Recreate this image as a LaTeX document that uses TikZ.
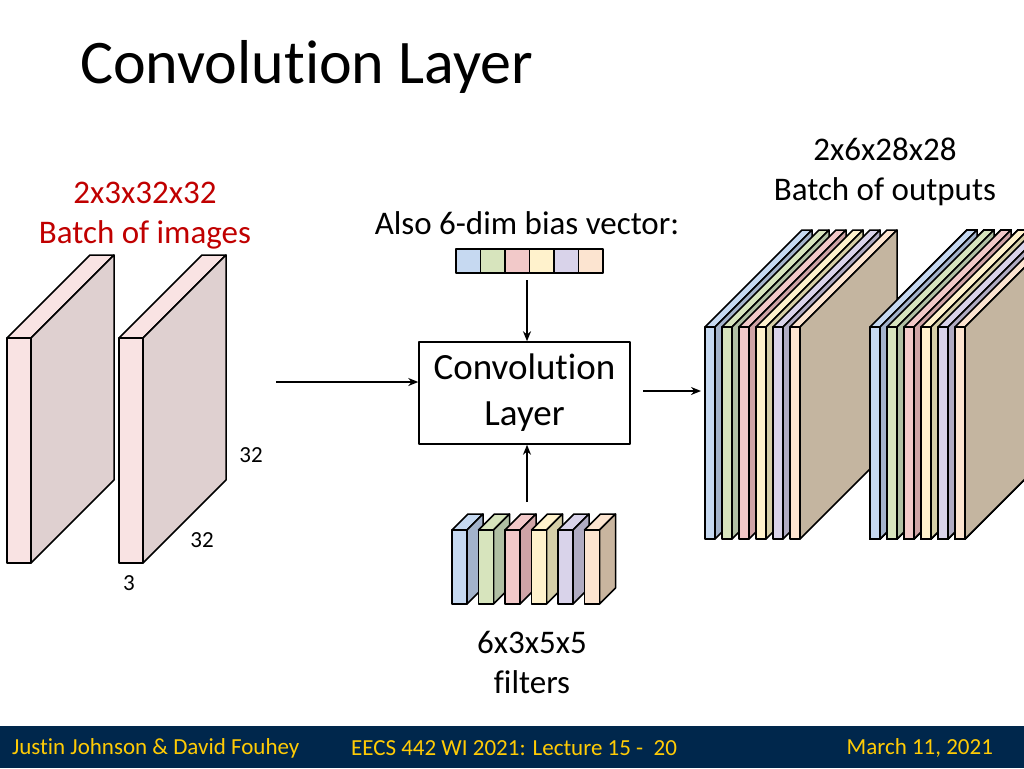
\documentclass[tikz,border=0pt]{standalone}
\usepackage{fontspec}
\setmainfont[Ligatures=NoCommon]{Carlito}
\usetikzlibrary{arrows.meta}
\definecolor{umblue}{HTML}{00274C}
\definecolor{maize}{HTML}{FFCB05}
\definecolor{redtxt}{HTML}{C00000}
\definecolor{cA}{HTML}{C6D9F1}\definecolor{sA}{HTML}{A3B3CB}
\definecolor{cB}{HTML}{D7E4BD}\definecolor{sB}{HTML}{B0BFA3}
\definecolor{cC}{HTML}{F2C9C9}\definecolor{sC}{HTML}{CFA4A6}
\definecolor{cD}{HTML}{FFF2CC}\definecolor{sD}{HTML}{D6CFA8}
\definecolor{cE}{HTML}{D9D3EA}\definecolor{sE}{HTML}{B0ABC2}
\definecolor{cF}{HTML}{FCE4D0}\definecolor{sF}{HTML}{C9B59F}
\definecolor{inF}{HTML}{F9E3E3}\definecolor{inS}{HTML}{DFD0D0}
\definecolor{brown}{HTML}{C4B5A0}
% slab: x, y top, width, height, depth, front colour, side colour
\newcommand{\slab}[7]{%
  \filldraw[fill=#6] (#1,#2) -- ++(#3,0) -- ++(#5,-#5) -- ++(-#3,0) -- cycle;
  \filldraw[fill=#7] (#1+#3,#2) -- ++(#5,-#5) -- ++(0,#4) -- ++(-#5,#5) -- cycle;
  \filldraw[fill=#6] (#1,#2) rectangle ++(#3,#4);}
% stack of six output maps
\newcommand{\outstack}[1]{%
  \foreach \col/\sd [count=\i from 0] in {cA/sA,cB/sB,cC/sC,cD/sD,cE/sE,cF/brown}
      \slab{#1+17*\i}{327}{10}{212}{97}{\col}{\sd}}
\tikzset{
  lbl/.style={font=\fontsize{33}{40}\selectfont, align=center},
  small/.style={font=\fontsize{23}{27}\selectfont},
  arr/.style={-{Stealth[length=10pt,width=8pt]}, line width=1.8pt},
}
\begin{document}
\begin{tikzpicture}[x=1pt,y=-1pt,line width=1.5pt,line join=round]
    \useasboundingbox (0,0) rectangle (1024,768);
    \clip (0,0) rectangle (1024,768);
    \node[anchor=west, font=\fontsize{62}{70}\selectfont] (title) at (76,67) {Convolution Layer};
    % input images
    \slab{7}{338}{24}{225}{83}{inF}{inS}
    \slab{119}{338}{24}{225}{83}{inF}{inS}
    \node[lbl, text=redtxt] (inlbl) at (145,216) {2x3x32x32\\Batch of images};
    \node[small] (h) at (251,455) {32};
    \node[small] (w) at (202,540) {32};
    \node[small] (c) at (129,583) {3};
    % conv layer
    \node[draw, minimum width=211pt, minimum height=102pt, align=center, font=\fontsize{37}{46}\selectfont] (conv) at (524.5,393) {Convolution\\Layer};
    \coordinate (inend) at (276,382);
    \draw[arr] (inend) -- (conv.west |- inend);
    \coordinate (outend) at (701,391);
    \coordinate (outstart) at (643,391);
    \draw[arr] (outstart) -- (outend);
    % bias vector
    \node[lbl] (biaslbl) at (527,223) {Also 6-dim bias vector:};
    \foreach \col [count=\i from 0] in {cA,cB,cC,cD,cE,cF}
        \node[draw, fill=\col, minimum width=24.5pt, minimum height=24pt, inner sep=0, line width=1.3pt] (b\i) at (468.25+24.5*\i,261) {};
    \coordinate (bstart) at (527,280);
    \draw[arr] (bstart) -- (bstart |- conv.north);
    % filters
    \foreach \col/\sd [count=\i from 0] in {cA/sA,cB/sB,cC/sC,cD/sD,cE/sE,cF/sF}
        \slab{452+26.5*\i}{530}{15}{74}{16}{\col}{\sd}
    \coordinate (fstart) at (527,502);
    \draw[arr] (fstart) -- (fstart |- conv.south);
    \node[lbl] (filtlbl) at (532,662) {6x3x5x5\\filters};
    % outputs
    \node[lbl] (outlbl) at (885,172) {2x6x28x28\\Batch of outputs};
    \outstack{705}
    \outstack{870}
    % footer
    \fill[umblue] (0,726) rectangle (1024,768);
    \node[anchor=west, text=maize, small] (f1) at (8,748) {Justin Johnson \& David Fouhey};
    \node[text=maize, small] (f2) at (514,748) {EECS 442 WI 2021: Lecture 15 -\ \ 20};
    \node[anchor=east, text=maize, small] (f3) at (997,748) {March 11, 2021};
\end{tikzpicture}
\end{document}
